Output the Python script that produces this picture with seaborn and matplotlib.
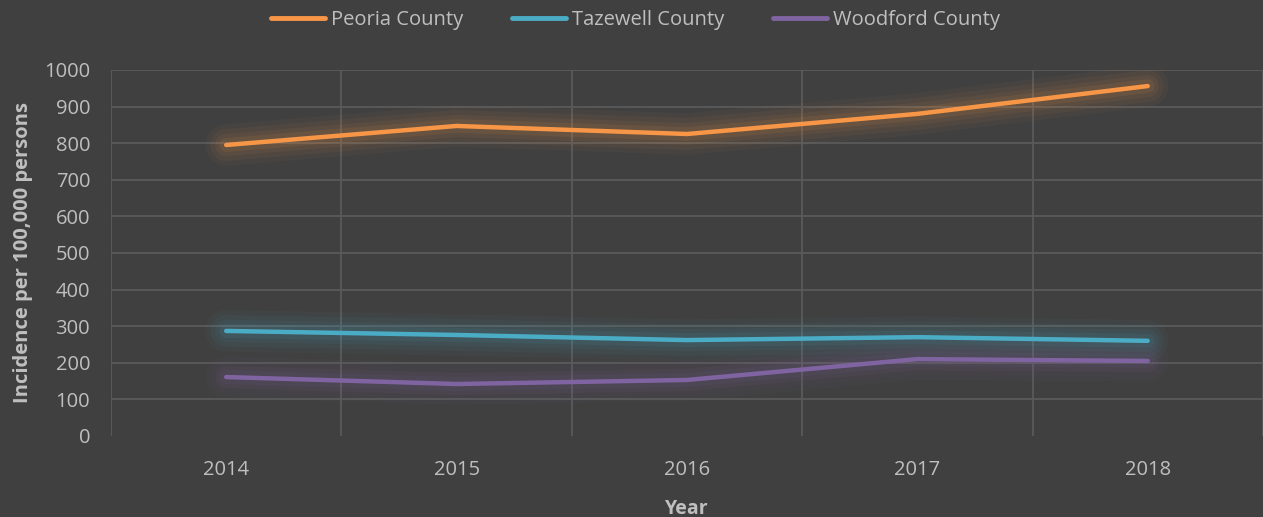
import numpy as np
import pandas as pd
import matplotlib
matplotlib.use("Agg")
import matplotlib.pyplot as plt
import seaborn as sns

years = ["2014", "2015", "2016", "2017", "2018"]
peoria = [795, 847, 825, 880, 956]
tazewell = [287, 276, 262, 270, 260]
woodford = [161, 142, 153, 210, 205]
counties = ["Peoria County", "Tazewell County", "Woodford County"]
colors = ["#F79646", "#4BACC6", "#8064A2"]

df = pd.DataFrame({
    "Year": years * 3,
    "Incidence": peoria + tazewell + woodford,
    "County": [c for c in counties for _ in years],
})
df["pos"] = df["Year"].map({y: i for i, y in enumerate(years)})

bg = "#404040"
text_col = "#BFBFBF"
grid_col = "#5A5A5A"

sns.set_theme(style="dark")
plt.rcParams["font.family"] = ["Open Sans", "DejaVu Sans"]

fig = plt.figure(figsize=(12.63, 5.17), dpi=100, facecolor=bg)
ax = fig.add_axes([0.0879, 0.1567, 0.912, 0.708], facecolor=bg)

# soft glow under each series
for county, col in zip(counties, colors):
    sub = df[df["County"] == county]
    for lw, a in [(30, 0.04), (23, 0.05), (16, 0.07), (10, 0.09)]:
        ax.plot(sub["pos"], sub["Incidence"], color=col, lw=lw, alpha=a,
                solid_capstyle="round", solid_joinstyle="round", zorder=2)

sns.lineplot(data=df, x="pos", y="Incidence", hue="County", palette=colors,
             hue_order=counties, linewidth=3.2, ax=ax, legend=True, zorder=3)
for ln in ax.get_lines():
    ln.set_solid_capstyle("round")

ax.set_xlim(-0.5, 4.5)
ax.set_ylim(0, 1000)
ax.set_xticks(range(len(years)))
ax.set_xticklabels(years)
ax.set_yticks(range(0, 1001, 100))

# vertical grid between categories, horizontal grid at the y ticks
for xb in np.arange(-0.5, 4.6, 1.0):
    ax.axvline(xb, color=grid_col, lw=1.3, zorder=1)
for yv in range(100, 1001, 100):
    ax.axhline(yv, color=grid_col, lw=1.3, zorder=1)
ax.grid(False)
for s in ax.spines.values():
    s.set_visible(False)

ax.tick_params(axis="both", colors=text_col, labelsize=14.5, length=0)
ax.tick_params(axis="y", pad=15)
ax.tick_params(axis="x", pad=17)
ax.set_xlabel("Year", color=text_col, fontsize=14, fontweight="bold", labelpad=14)
ax.set_ylabel("Incidence per 100,000 persons", color=text_col, fontsize=14.5,
              fontweight="bold", labelpad=8)

handles, labels = ax.get_legend_handles_labels()
leg = fig.legend(handles, labels, loc="upper center", bbox_to_anchor=(0.503, 1.015),
                 ncol=3, frameon=False, fontsize=14.5, handlelength=2.7,
                 columnspacing=2.4, handletextpad=0.3)
for t in leg.get_texts():
    t.set_color(text_col)
for h in leg.get_lines():
    h.set_linewidth(3.5)
ax.get_legend().remove()

fig.savefig("out.png", dpi=100, facecolor=bg)
